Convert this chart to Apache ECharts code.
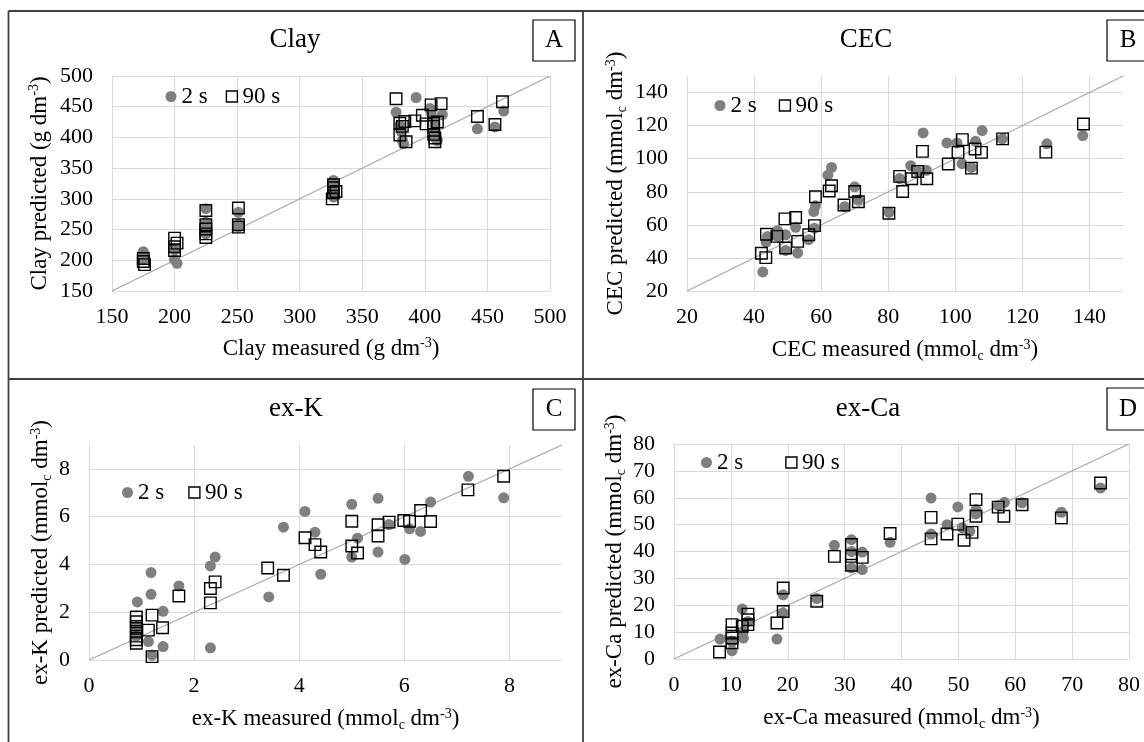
<!DOCTYPE html>
<html><head><meta charset="utf-8">
<script src="https://cdn.jsdelivr.net/npm/echarts@6/dist/echarts.min.js"></script>
<style>html,body{margin:0;padding:0;background:#fff}#c{width:1144px;height:742px}</style>
</head><body><div id="c"></div>
<script>
// ---------------- DATA ----------------
const seriesNames = ['2 s', '90 s'];
const panelTitles = ['Clay', 'CEC', 'ex-K', 'ex-Ca'];
const panelLetters = ['A', 'B', 'C', 'D'];
const xNames = ['Clay measured (g dm{sup|-3})', 'CEC measured (mmol{sub|c} dm{sup|-3})',
                'ex-K measured (mmol{sub|c} dm{sup|-3})', 'ex-Ca measured (mmol{sub|c} dm{sup|-3})'];
const yNames = ['Clay predicted (g dm{sup|-3})', 'CEC predicted (mmol{sub|c} dm{sup|-3})',
                'ex-K predicted (mmol{sub|c} dm{sup|-3})', 'ex-Ca predicted (mmol{sub|c} dm{sup|-3})'];
const axisMin = [150, 20, 0, 0];
const axisMax = [500, 150, 9, 80];
const axisStep = [50, 20, 2, 10];

const clay2s = [[175,214],[175,207],[175,201],[200,201],[202,195],[200,217],
  [225,284],[225,262],[225,252],[225,243],[251,278],[251,259],[251,254],
  [327,330],[327,322],[327,312],[327,303],[377,441],[380,420],[381,410],[382,395],[383,390],
  [393,465],[404,447],[405,440],[407,430],[408,420],[408,410],[408,400],[410,395],[414,437],
  [442,414],[456,417],[463,443]];
const clay90s = [[175,203],[175,198],[176,193],[200,236],[200,222],[200,216],[202,228],
  [225,281],[225,258],[225,251],[225,243],[225,237],[251,285],[251,258],[251,254],
  [326,300],[327,310],[327,318],[327,323],[329,312],[377,463],[380,423],[380,404],[382,418],
  [384,426],[385,393],[392,427],[398,436],[401,422],[405,453],[407,423],[407,418],[407,405],
  [408,399],[408,393],[410,425],[413,455],[442,434],[456,421],[462,458]];

const cec2s = [[42.6,31.5],[43.6,49.5],[44,53],[47,56.5],[47,53],[49.4,54],[49.4,44.5],[52.4,58.5],
  [53,43],[56.3,51],[57.8,68],[58.3,71.5],[58,58],[62,90],[63.1,94.7],[67,71],[70,83],[71,75],
  [80.2,67.5],[83.4,88],[86.7,95.8],[89,92],[90.4,115.6],[91.4,93],[97.5,109.5],[100.5,109.5],
  [102,97],[104.8,94.7],[106,110.5],[108,117],[114,112],[127.3,109],[138,114]];
const cec90s = [[42.2,42.8],[43.5,40.2],[43.7,54.3],[46.8,53],[49.2,63.6],[49.4,46],[52.4,64.4],
  [53,50],[56.3,54],[58,59.5],[58.3,77],[62.4,80.5],[63.1,83.6],[66.8,72],[70,80.2],[71.1,74],
  [80.2,67],[83.4,89.3],[84.3,80.2],[87,87.9],[88.8,92.3],[90.2,104.4],[91.5,87.9],[97.9,96.8],
  [100.8,103.8],[102.1,111.5],[104.8,94.3],[105.9,105.9],[107.8,103.8],[114.1,112],[127,104],
  [138.2,121]];

const exK2s = [[0.92,2.43],[1.13,0.77],[1.18,3.66],[1.18,2.75],[1.41,2.04],[1.41,0.56],[1.71,3.1],
  [2.31,3.94],[2.4,4.31],[2.31,0.51],[3.42,2.64],[3.7,5.56],[4.11,6.22],[4.3,5.35],[4.41,3.59],
  [5.0,6.52],[5.0,4.31],[5.11,5.1],[5.5,6.77],[5.5,4.52],[5.71,5.67],[6.01,4.21],[6.1,5.49],
  [6.31,5.38],[6.5,6.61],[7.22,7.69],[7.89,6.79],[0.9,1.0],[0.9,1.4],[1.2,0.2]];
const exK90s = [[0.9,1.8],[0.9,1.6],[0.9,1.4],[0.9,1.2],[0.9,1.0],[0.9,0.85],[0.9,0.7],[1.13,1.25],
  [1.2,1.88],[1.2,0.14],[1.4,1.35],[1.71,2.68],[2.31,2.99],[2.31,2.39],[2.4,3.27],[3.4,3.85],
  [3.7,3.55],[4.11,5.12],[4.3,4.83],[4.41,4.52],[5.0,5.81],[5.0,4.77],[5.11,4.48],[5.5,5.66],
  [5.5,5.19],[5.71,5.77],[5.99,5.84],[6.1,5.81],[6.31,6.26],[6.5,5.8],[7.21,7.12],[7.89,7.69]];

const exCa2s = [[8.1,7.4],[10.2,3.1],[10.2,6.6],[12,18.6],[12.2,7.8],[12.2,10.3],[13,14],[18.1,7.4],
  [19.2,23.9],[19.2,17.1],[25.1,22.5],[28.2,42.3],[31.2,44.4],[31.2,40],[31.2,33.9],[33.1,39.8],
  [33.1,33.3],[38,43.4],[45.2,59.9],[45.2,46.5],[48,50],[49.9,56.6],[50.7,48.8],[52,47.5],
  [53.1,55.6],[53.1,54],[57,57.1],[58.1,58.3],[61.2,58.1],[68.1,54.6],[75,63.6]];
const exCa90s = [[8,2.6],[10.2,12.8],[10.2,9.7],[10.2,7.8],[10.2,6],[12,12.2],[13,16.7],[13,14.6],
  [13,12.8],[18.1,13.4],[19.2,26.4],[19.2,17.7],[25.1,21.5],[28.2,38.2],[31.2,42.6],[31.2,38.2],
  [31.2,34.9],[33.1,37.8],[38,46.7],[45.2,52.7],[45.2,44.7],[48,46.5],[49.9,50.2],[51,44.2],
  [52.4,47.1],[53.1,59.3],[53.1,53.1],[57,56.5],[58,53.1],[61.2,57.4],[68.1,52.5],[75,65.5]];

const data2s = [clay2s, cec2s, exK2s, exCa2s];
const data90s = [clay90s, cec90s, exK90s, exCa90s];

// ---------------- LAYOUT / STYLE ----------------
const FONT = '"Liberation Serif", "Times New Roman", serif';
const grids = [
  {left: 112, top: 76, width: 438, height: 215},
  {left: 687, top: 76, width: 436, height: 215},
  {left: 89, top: 445, width: 473, height: 215},
  {left: 674, top: 444, width: 455, height: 215}
];
const showEdge = [true, false, false, true];
const yNameGap = [60, 58, 35, 46];
const titlePos = [[295, 40], [866, 40], [296, 409], [868, 409]];
const letterBox = [[533, 20, 42, 41], [1107, 20, 42, 41], [533, 389, 42, 41], [1107, 388, 42, 42]];
const legendPos = [[165.5, 85, 18], [714.5, 94, 22], [122, 481, 24], [701, 451, 42]];

const rich = {
  sup: {fontFamily: FONT, fontSize: 14, color: '#000', verticalAlign: 'bottom', padding: [0, 0, 11, 0]},
  sub: {fontFamily: FONT, fontSize: 14, color: '#000', verticalAlign: 'top', padding: [13, 0, 0, 0]}
};
const nameStyle = {fontFamily: FONT, fontSize: 23, color: '#000', rich: rich};
const labelStyle = {fontFamily: FONT, fontSize: 22, color: '#000'};

const xAxes = [], yAxes = [], series = [], legends = [], graphics = [];
for (let i = 0; i < 4; i++) {
  const common = {
    type: 'value', gridIndex: i, min: axisMin[i], max: axisMax[i], interval: axisStep[i],
    axisLine: {show: false}, axisTick: {show: false},
    splitLine: {show: true, showMaxLine: showEdge[i], lineStyle: {color: '#d9d9d9', width: 1}},
    nameLocation: 'middle', nameTextStyle: nameStyle
  };
  xAxes.push(Object.assign({}, common, {
    name: xNames[i], nameGap: 45,
    axisLabel: Object.assign({margin: 15, showMaxLabel: showEdge[i]}, labelStyle)
  }));
  yAxes.push(Object.assign({}, common, {
    name: yNames[i], nameGap: yNameGap[i],
    axisLabel: Object.assign({margin: 19, showMaxLabel: showEdge[i]}, labelStyle)
  }));
  series.push({
    type: 'line', xAxisIndex: i, yAxisIndex: i, silent: true, symbol: 'none', z: 1,
    lineStyle: {color: '#a6a6a6', width: 1.2},
    data: [[axisMin[i], axisMin[i]], [axisMax[i], axisMax[i]]]
  });
  series.push({
    name: seriesNames[0], type: 'scatter', xAxisIndex: i, yAxisIndex: i, z: 2,
    symbol: 'circle', symbolSize: 11,
    itemStyle: {color: '#7f7f7f', opacity: 1},
    data: data2s[i]
  });
  series.push({
    name: seriesNames[1], type: 'scatter', xAxisIndex: i, yAxisIndex: i, z: 3,
    symbol: 'rect', symbolSize: 11.5,
    itemStyle: {color: 'rgba(255,255,255,0)', borderColor: '#000', borderWidth: 1.4, opacity: 1},
    data: data90s[i]
  });
  legends.push({
    left: legendPos[i][0], top: legendPos[i][1], itemGap: legendPos[i][2], padding: 0,
    itemWidth: 11, itemHeight: 11, selectedMode: false,
    textStyle: {fontFamily: FONT, fontSize: 23, color: '#000', lineHeight: 23},
    data: [
      {name: seriesNames[0], icon: 'circle', itemStyle: {color: '#7f7f7f'}},
      {name: seriesNames[1], icon: 'rect', itemStyle: {color: '#fff', borderColor: '#000', borderWidth: 1.4}}
    ]
  });
  graphics.push({
    type: 'text', x: titlePos[i][0], y: titlePos[i][1],
    style: {text: panelTitles[i], fontFamily: FONT, fontSize: 27, fill: '#000', align: 'center', verticalAlign: 'middle'}
  });
  const b = letterBox[i];
  graphics.push({
    type: 'rect', shape: {x: b[0], y: b[1], width: b[2], height: b[3]},
    style: {fill: '#fff', stroke: '#000', lineWidth: 1.2}
  });
  graphics.push({
    type: 'text', x: b[0] + b[2] / 2, y: b[1] + b[3] / 2,
    style: {text: panelLetters[i], fontFamily: FONT, fontSize: 25, fill: '#000', align: 'center', verticalAlign: 'middle'}
  });
}
// panel frames
const frameStyle = {stroke: '#404040', lineWidth: 1.8};
[[8.5, 11, 1144, 11], [8.5, 11, 8.5, 742], [583, 11, 583, 742], [8.5, 379, 1144, 379]].forEach(function (l) {
  graphics.push({type: 'line', shape: {x1: l[0], y1: l[1], x2: l[2], y2: l[3]}, style: frameStyle, z: 10});
});

const chart = echarts.init(document.getElementById('c'), null, {renderer: 'canvas'});
chart.setOption({
  backgroundColor: '#fff',
  animation: false,
  grid: grids,
  xAxis: xAxes,
  yAxis: yAxes,
  legend: legends,
  series: series,
  graphic: graphics
});
</script>
</body></html>
